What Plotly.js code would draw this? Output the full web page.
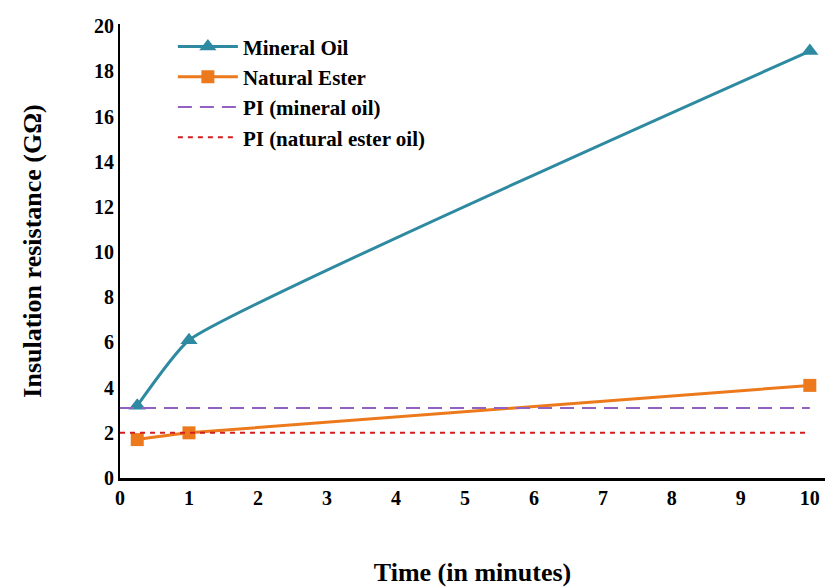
<!DOCTYPE html>
<html>
<head>
<meta charset="utf-8">
<script src="https://cdn.plot.ly/plotly-3.0.1.min.js"></script>
<style>html,body{margin:0;padding:0;background:#fff;}#chart{width:828px;height:588px;}</style>
</head>
<body>
<div id="chart"></div>
<script>
const timeMin = [0.25, 1, 10];
const mineralOil = [3.2, 6.1, 18.9];
const naturalEster = [1.7, 2.0, 4.1];
const piX = [0, 10];
const piMineral = [3.1, 3.1];
const piEster = [2.0, 2.0];
const xTicks = [0,1,2,3,4,5,6,7,8,9,10];
const yTicks = [0,2,4,6,8,10,12,14,16,18,20];

const font = "Liberation Serif";
const traces = [
  {x: timeMin, y: mineralOil, name: '<b>Mineral Oil</b>', mode: 'lines+markers',
   line: {color: '#2E8AA0', width: 3, shape: 'spline', smoothing: 0.4},
   marker: {symbol: 'triangle-up', size: 15, color: '#2E8AA0'}},
  {x: timeMin, y: naturalEster, name: '<b>Natural Ester</b>', mode: 'lines+markers',
   line: {color: '#EC7A1C', width: 3, shape: 'spline', smoothing: 0.3},
   marker: {symbol: 'square', size: 13, color: '#EC7A1C'}},
  {x: piX, y: piMineral, name: '<b>PI (mineral oil)</b>', mode: 'lines',
   line: {color: '#9361C4', width: 2, dash: '14px,8px'}},
  {x: piX, y: piEster, name: '<b>PI (natural ester oil)</b>', mode: 'lines',
   line: {color: '#D21E1E', width: 2, dash: '5px,5px'}}
];
const layout = {
  width: 828, height: 588,
  margin: {l: 120, r: 3, t: 24, b: 110},
  paper_bgcolor: '#fff', plot_bgcolor: '#fff',
  font: {family: font, color: '#000', size: 20, weight: 'bold'},
  showlegend: true,
  legend: {x: 0.075, y: 0.995, xanchor: 'left', yanchor: 'top',
    font: {family: font, size: 21, color: '#000', weight: 'bold'}, bgcolor: 'rgba(0,0,0,0)',
    tracegroupgap: 0, itemwidth: 60},
  xaxis: {range: [0, 10.22], tickvals: xTicks, ticktext: xTicks.map(v => '<b>' + v + '</b>'),
    showgrid: false, zeroline: false, showline: true, linecolor: '#000', linewidth: 3,
    ticks: '', tickfont: {family: font, size: 20, color: '#000', weight: 'bold'},
    title: {text: '<b>Time (in minutes)</b>', font: {family: font, size: 26, color: '#000', weight: 'bold'}, standoff: 55}},
  yaxis: {range: [0, 20.1], tickvals: yTicks, ticktext: yTicks.map(v => '<b>' + v + '</b>'),
    showgrid: false, zeroline: false, showline: true, linecolor: '#000', linewidth: 2,
    ticks: '', tickfont: {family: font, size: 20, color: '#000', weight: 'bold'},
    title: {text: '<b>Insulation resistance (GΩ)</b>', font: {family: font, size: 26, color: '#000', weight: 'bold'}, standoff: 45}}
};
Plotly.newPlot('chart', traces, layout, {displayModeBar: false});
</script>
</body>
</html>
